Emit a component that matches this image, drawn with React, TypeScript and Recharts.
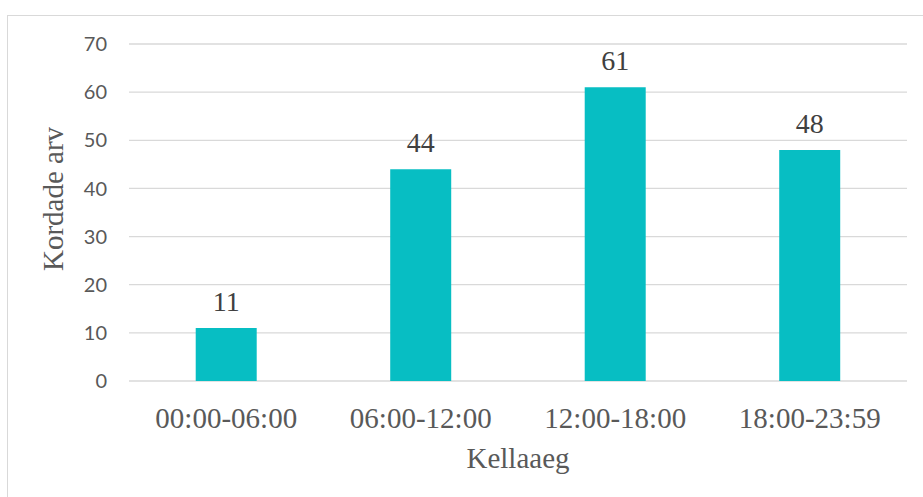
import React from "react";
import { BarChart, Bar, XAxis, YAxis, CartesianGrid, LabelList } from "recharts";

const categories = ["00:00-06:00", "06:00-12:00", "12:00-18:00", "18:00-23:59"];
const counts = [11, 44, 61, 48];
const yTicks = [0, 10, 20, 30, 40, 50, 60, 70];
const xTitle = "Kellaaeg";
const yTitle = "Kordade arv";

const data = categories.map((c, i) => ({ name: c, value: counts[i] }));

const SERIF = "'Liberation Serif', 'Times New Roman', serif";
const SANS = "Lato, 'Open Sans', sans-serif";

export default function App() {
  return (
    <div style={{ position: "absolute", left: 0, top: 0, width: 923, height: 497, overflow: "hidden", background: "#fff" }}>
      <div
        style={{
          position: "absolute",
          left: 7,
          top: 15,
          width: 940,
          height: 520,
          border: "1px solid #d9d9d9",
          boxSizing: "border-box",
        }}
      />
      <div style={{ position: "absolute", left: 0, top: 0 }}>
        <BarChart
          width={923}
          height={497}
          data={data}
          margin={{ top: 44, right: 16, left: 69, bottom: 16 }}
          barCategoryGap="34.3%"
        >
          <CartesianGrid vertical={false} stroke="#d9d9d9" strokeWidth={1.3} />
          <XAxis
            dataKey="name"
            axisLine={false}
            tickLine={false}
            height={100}
            tickMargin={20}
            tick={{ fill: "#595959", fontSize: 29, fontFamily: SERIF }}
            label={{
              value: xTitle,
              position: "insideBottom",
              offset: 13,
              fill: "#595959",
              fontSize: 29,
              fontFamily: SERIF,
            }}
          />
          <YAxis
            width={60}
            domain={[0, 70]}
            ticks={yTicks}
            axisLine={false}
            tickLine={false}
            tickMargin={16}
            tick={{ fill: "#595959", fontSize: 20, fontFamily: SANS }}
            label={{
              content: () => {
                const cx = 63;
                const cy = 199;
                return (
                  <text
                    x={cx}
                    y={cy}
                    transform={`rotate(-90, ${cx}, ${cy})`}
                    textAnchor="middle"
                    fill="#595959"
                    fontSize={29}
                    fontFamily={SERIF}
                  >
                    {yTitle}
                  </text>
                );
              },
            }}
          />
          <Bar dataKey="value" fill="#07bec3" isAnimationActive={false}>
            <LabelList
              dataKey="value"
              position="top"
              offset={17}
              fill="#404040"
              fontSize={28}
              fontFamily={SERIF}
            />
          </Bar>
        </BarChart>
      </div>
    </div>
  );
}
